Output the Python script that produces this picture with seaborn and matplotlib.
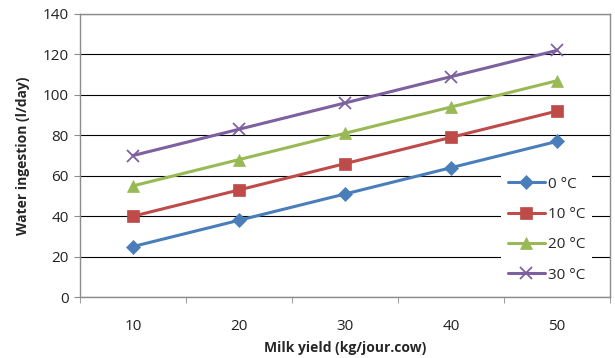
import seaborn as sns
import pandas as pd
import matplotlib.pyplot as plt

# data
milk_yield = [10, 20, 30, 40, 50]
temp_0 = [25, 38, 51, 64, 77]
temp_10 = [40, 53, 66, 79, 92]
temp_20 = [55, 68, 81, 94, 107]
temp_30 = [70, 83, 96, 109, 122]
series_labels = ['0 °C', '10 °C', '20 °C', '30 °C']

colors = ['#4A7EBB', '#BE4B48', '#98B954', '#7D60A0']
markers = ['D', 's', '^', 'x']
sizes = [7, 8, 8.5, 9]

rows = []
for lab, vals in zip(series_labels, [temp_0, temp_10, temp_20, temp_30]):
    for x, v in zip(milk_yield, vals):
        rows.append({'Milk yield': x, 'Water': v, 'Series': lab})
df = pd.DataFrame(rows)

sns.set_style('white')
plt.rcParams['font.family'] = ['Open Sans', 'DejaVu Sans']

fig = plt.figure(figsize=(6.15, 3.58), dpi=100)
ax = fig.add_axes([0.130, 0.170, 0.862, 0.791])

for lab, c, m, s in zip(series_labels, colors, markers, sizes):
    sub = df[df['Series'] == lab]
    sns.lineplot(data=sub, x='Milk yield', y='Water', color=c, marker=m,
                 markersize=s, linewidth=2.2, markeredgecolor=c,
                 markeredgewidth=1.3 if m == 'x' else 0.5,
                 label=lab, ax=ax, zorder=3)

ax.set_xlim(5, 55)
ax.set_ylim(0, 140)
ax.set_yticks(range(0, 141, 20))
ax.set_xticks(milk_yield)
ax.set_xticks([5, 15, 25, 35, 45, 55], minor=True)
ax.grid(axis='y', color='black', linewidth=0.8)
ax.set_axisbelow(True)

for sp in ax.spines.values():
    sp.set_color('#8C8C8C')
    sp.set_linewidth(1.0)

ax.tick_params(axis='y', which='major', left=True, length=4, color='#8C8C8C',
               labelsize=11, labelcolor='#222222', pad=4)
ax.tick_params(axis='x', which='major', bottom=False, labelsize=11,
               labelcolor='#222222', pad=12)
ax.tick_params(axis='x', which='minor', bottom=True, length=4, color='#8C8C8C')

ax.set_xlabel('Milk yield (kg/jour.cow)', fontsize=10, fontweight='bold',
              labelpad=5)
ax.set_ylabel('Water ingestion (l/day)', fontsize=10, fontweight='bold',
              labelpad=9)

leg = ax.legend(loc='lower right', bbox_to_anchor=(0.98, 0.0), frameon=True,
                fontsize=11, handlelength=2.4, labelspacing=1.0,
                borderpad=0.45, handletextpad=0.2)
leg.get_frame().set_facecolor('white')
leg.get_frame().set_edgecolor('none')
leg.get_frame().set_alpha(1)
leg.set_zorder(5)

plt.savefig('out.png', dpi=100)
